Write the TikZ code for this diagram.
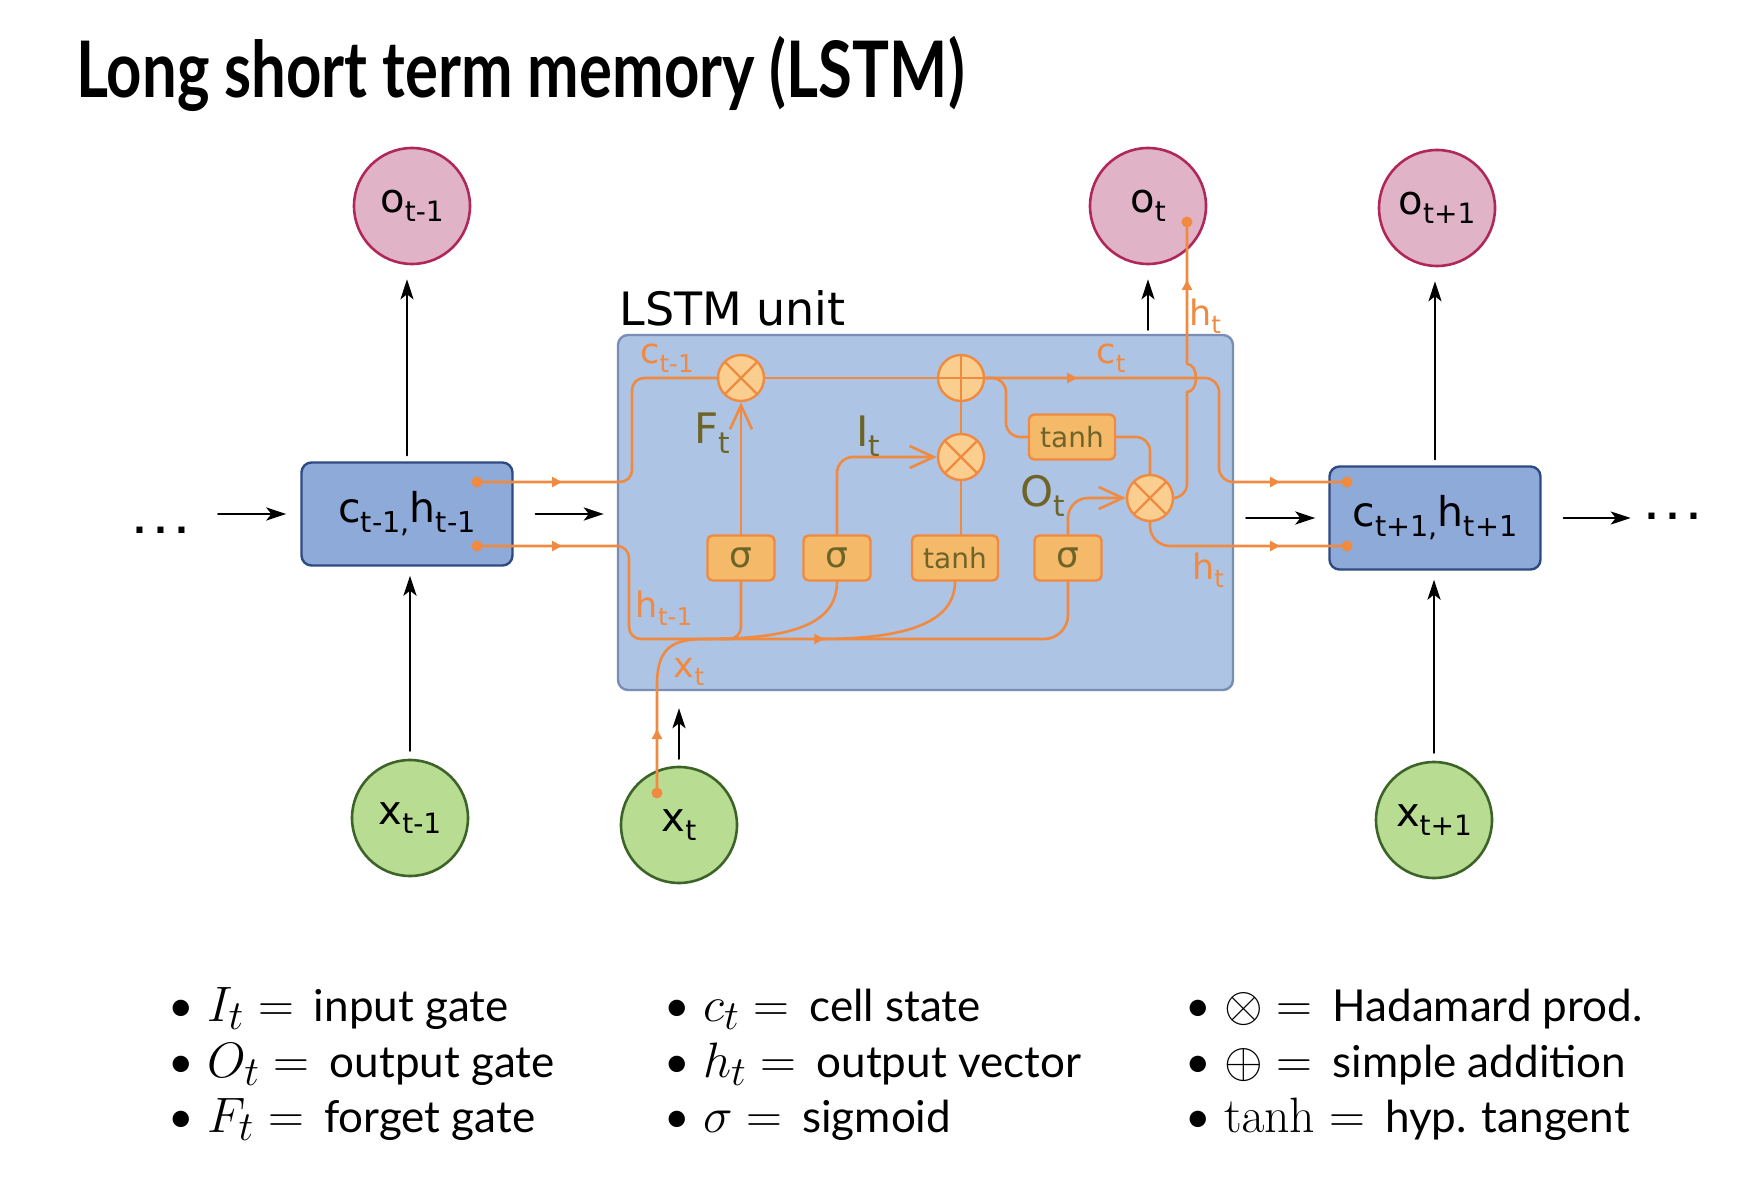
\documentclass[tikz,border=0pt]{standalone}
\usepackage[no-math]{fontspec}
\usepackage{graphicx}
\setmainfont{Lato}
\newfontfamily\dejavu{DejaVu Sans}
\newfontfamily\titlefont[FakeStretch=0.79]{Lato}
\usetikzlibrary{arrows.meta, decorations.markings, positioning}
\definecolor{lineor}{RGB}{240,138,64}
\definecolor{gatefill}{RGB}{244,186,106}
\definecolor{opfill}{RGB}{249,206,142}
\definecolor{gatetext}{RGB}{110,100,40}
\definecolor{unitfill}{RGB}{174,196,229}
\definecolor{unitdraw}{RGB}{122,141,181}
\definecolor{statefill}{RGB}{142,170,217}
\definecolor{statedraw}{RGB}{46,74,130}
\definecolor{outfill}{RGB}{224,180,198}
\definecolor{outdraw}{RGB}{176,40,90}
\definecolor{infill}{RGB}{184,220,146}
\definecolor{indraw}{RGB}{60,100,40}
\newcommand\lsub[1]{\raisebox{-0.24em}{\scalebox{0.7}{#1}}}
\newcommand\lmath[1]{{\fontsize{24.88}{26}\selectfont$#1 =$}\hspace{0.2em}}

\begin{document}
\begin{tikzpicture}[x=0.5pt, y=-0.5pt,
    line cap=round, line join=round,
    outnode/.style={circle, draw=outdraw, fill=outfill, line width=1.3pt, minimum size=58pt, inner sep=0pt,
        font=\dejavu\fontsize{20}{20}\selectfont},
    innode/.style={outnode, draw=indraw, fill=infill},
    statebox/.style={rectangle, rounded corners=5pt, draw=statedraw, fill=statefill, line width=1.2pt,
        minimum width=105.5pt, minimum height=51.5pt, font=\dejavu\fontsize{20.5}{20.5}\selectfont},
    unitbox/.style={rectangle, rounded corners=5pt, draw=unitdraw, fill=unitfill, line width=1.2pt,
        minimum width=307.5pt, minimum height=177.5pt},
    gatebox/.style={rectangle, rounded corners=2.5pt, draw=lineor, fill=gatefill, line width=1.2pt,
        minimum width=33.5pt, minimum height=22.5pt, inner sep=0pt, text=gatetext,
        font=\dejavu\fontsize{18}{18}\selectfont},
    tanhbox/.style={gatebox, minimum width=43pt, font=\dejavu\fontsize{14}{14}\selectfont},
    opnode/.style={circle, draw=lineor, fill=opfill, line width=1.2pt, minimum size=23pt, inner sep=0pt},
    prodnode/.style={opnode, path picture={
        \draw[lineor, line width=1.2pt] (path picture bounding box.north west) -- (path picture bounding box.south east)
            (path picture bounding box.north east) -- (path picture bounding box.south west);}},
    sumnode/.style={opnode, path picture={
        \draw[lineor, line width=1.2pt] (path picture bounding box.north) -- (path picture bounding box.south)
            (path picture bounding box.east) -- (path picture bounding box.west);}},
    wire/.style={lineor, line width=1.3pt},
    midarrow/.style={postaction={decorate, decoration={markings,
        mark=at position #1 with {\arrow{Triangle[length=5pt, width=5pt]}}}}},
    gatearrow/.style={-{Straight Barb[length=12pt, width=11pt]}},
    barrow/.style={-{Stealth[length=10pt, width=6.5pt, inset=2.5pt]}, line width=1.2pt},
    dot/.style={circle, fill=lineor, inner sep=0pt, minimum size=5.5pt},
    dots/.style={anchor=base, inner sep=0pt, font=\dejavu\bfseries\fontsize{17}{17}\selectfont},
    orlabel/.style={text=lineor, inner sep=0pt, font=\dejavu\fontsize{17.5}{17.5}\selectfont},
    gatelabel/.style={text=gatetext, inner sep=0pt, font=\dejavu\fontsize{21}{21}\selectfont},
    legend/.style={anchor=base west, inner sep=0pt, font=\fontsize{22}{22}\selectfont}]
    \useasboundingbox (0,0) rectangle (1746,1198);

    % title
    \node[anchor=base west, inner sep=0pt, font=\titlefont\bfseries\fontsize{39}{39}\selectfont] (title) at (76,98)
        {Long short term memory (LSTM)};

    % unrolled time steps
    \node[outnode] (o1) at (412,206) {o\lsub{t-1}};
    \node[outnode] (o2) at (1148,206) {o\lsub{t}};
    \node[outnode] (o3) at (1437,208) {o\lsub{t+1}};
    \node[innode] (x1) at (410,818) {x\lsub{t-1}};
    \node[innode] (x2) at (679,825) {x\lsub{t}};
    \node[innode] (x3) at (1434,820) {x\lsub{t+1}};
    \node[statebox] (c1) at (407,514) {c\lsub{t-1,}h\lsub{t-1}};
    \node[statebox] (c3) at (1435,518) {c\lsub{t+1,}h\lsub{t+1}};
    \node[unitbox] (u) at (925.5,512.5) {};
    \node[anchor=base west, inner sep=0pt, font=\dejavu\fontsize{23}{23}\selectfont] (ulabel) at (619,326) {LSTM unit};
    \node[dots] (dl) at (161,533) {.\hspace{0.25em}.\hspace{0.25em}.};
    \node[dots] (dr) at (1673,519) {.\hspace{0.25em}.\hspace{0.25em}.};

    % black connectors
    \draw[barrow, shorten <=14.5pt, shorten >=7pt] (dl.east |- c1.west) -- (c1.west);
    \draw[barrow, shorten <=11pt, shorten >=6.5pt] (c1.east) -- (c1.east -| u.west);
    \draw[barrow, shorten <=6pt, shorten >=6.5pt] (u.east |- c3.west) -- (c3.west);
    \draw[barrow, shorten <=11pt, shorten >=7pt] (c3.east) -- (c3.east -| dr.west);
    \draw[barrow, shorten <=3pt, shorten >=7pt] (c1.north) -- (c1.north |- o1.south);
    \draw[barrow, shorten <=4pt, shorten >=4.5pt] (x1.north) -- (x1.north |- c1.south);
    \draw[barrow, shorten <=3pt, shorten >=7pt] (c3.north) -- (c3.north |- o3.south);
    \draw[barrow, shorten <=4pt, shorten >=4.5pt] (x3.north) -- (x3.north |- c3.south);
    \draw[barrow, shorten <=2pt, shorten >=7pt] (u.north -| o2.south) -- (o2.south);
    \draw[barrow, shorten <=3.5pt, shorten >=8.5pt] (x2.north) -- (x2.north |- u.south);

    % gates inside the unit
    \node[prodnode] (fx) at (741,378) {};
    \node[sumnode] (ad) at (961,378) {};
    \node[prodnode] (ix) at (961,457) {};
    \node[prodnode] (ox) at (1150,498) {};
    \node[gatebox] (s1) at (741,558) {σ};
    \node[gatebox] (s2) at (837,558) {σ};
    \node[tanhbox] (th) at (955,558) {tanh};
    \node[gatebox] (s3) at (1068,558) {σ};
    \node[tanhbox] (tu) at (1072,437) {tanh};

    % wire ends
    \node[dot] (c1c) at (477,482) {};
    \node[dot] (c1h) at (477,546) {};
    \node[dot] (c3c) at (1347,482) {};
    \node[dot] (c3h) at (1347,546) {};
    \node[dot] (x2h) at (657,793) {};
    \node[dot] (o2h) at (1187,222) {};

    % cell state
    \draw[wire, midarrow=42.5pt, rounded corners=6pt] (c1c.center) -- (632,482) -- (632,378) -- (fx.west);
    \draw[wire] (fx) -- (ad);
    \draw[wire, midarrow=46pt, midarrow=-33.5pt, rounded corners=7pt] (ad.east) -- (1219,378) -- (1219,482) -- (c3c.center);
    \draw[wire, rounded corners=7pt] (ad.east) -- (1006,378) -- (1006,437) -- (tu.west);
    \draw[wire, rounded corners=7pt] (tu.east) -| (ox.north);
    \draw[wire] (ix) -- (ad);
    \draw[wire] (ix.south) -- (ix.south |- th.north);

    % gate signals
    \draw[wire, gatearrow] (s1) -- (fx);
    \draw[wire, gatearrow, rounded corners=8pt] (s2.north) |- (ix.west);
    \draw[wire, gatearrow, rounded corners=10pt] (s3.north) |- (ox.west);

    % hidden state out
    \draw[wire, rounded corners=7pt] (ox.east) -- (1187,498) -- (1187,392);
    \draw[wire, midarrow=-29pt] (1187,392) .. controls (1199,392) and (1199,364) .. (1187,364) -- (o2h.center);
    \draw[wire, midarrow=-33.5pt, rounded corners=10pt] (ox.south) |- (c3h.center);

    % inputs to the gates
    \draw[wire, midarrow=42.5pt, midarrow=215pt, rounded corners=6pt] (c1h.center) -- (629,546) -- (629,639)
        [rounded corners=12pt] -- (1068,639) -- (s3.south);
    \draw[wire, rounded corners=6pt] (s1.south) |- (720,639);
    \draw[wire] (s2.south) .. controls (837,625) and (790,639) .. (705,639);
    \draw[wire] (th.south) .. controls (955,625) and (900,639) .. (820,639);
    \draw[wire, midarrow=32pt] (x2h.center) -- (657,685) .. controls (657,648) and (672,639) .. (705,639);

    % labels
    \node[orlabel] (lc1) at (667,358) {c\lsub{t-1}};
    \node[orlabel] (lc2) at (1111,358) {c\lsub{t}};
    \node[orlabel] (lh1) at (1205,316) {h\lsub{t}};
    \node[orlabel] (lh2) at (1208,570) {h\lsub{t}};
    \node[orlabel] (lh0) at (664,608) {h\lsub{t-1}};
    \node[orlabel] (lx2) at (689,672) {x\lsub{t}};
    \node[gatelabel] (lf) at (712,433) {F\lsub{t}};
    \node[gatelabel] (li) at (868,436) {I\lsub{t}};
    \node[gatelabel] (lo) at (1043,496) {O\lsub{t}};

    % legend
    \foreach \lsym/\ltext [count=\i] in {I_t/input gate, O_t/output gate, F_t/forget gate}
        \node[legend] (la\i) at (168,966+55.5*\i) {\textbullet\hspace{0.3em}\lmath{\lsym} \ltext};
    \foreach \lsym/\ltext [count=\i] in {c_t/cell state, h_t/output vector, \sigma/sigmoid}
        \node[legend] (lb\i) at (664,966+55.5*\i) {\textbullet\hspace{0.3em}\lmath{\lsym} \ltext};
    \foreach \lsym/\ltext [count=\i] in {\otimes/Hadamard prod., \oplus/simple addition, \tanh/hyp. tangent}
        \node[legend] (lc\i) at (1185,966+55.5*\i) {\textbullet\hspace{0.3em}\lmath{\lsym} \ltext};
\end{tikzpicture}
\end{document}
